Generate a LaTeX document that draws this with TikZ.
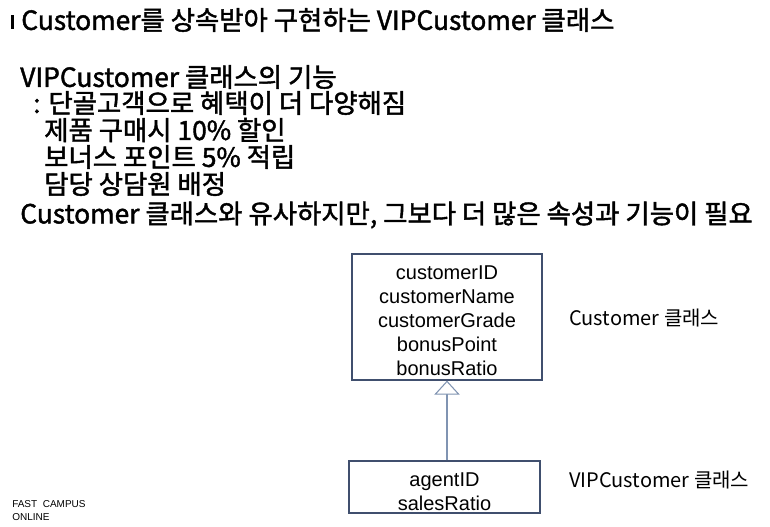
\documentclass[tikz,border=0pt]{standalone}
\usepackage{fontspec}
\setmainfont{Noto Sans CJK KR}
\newfontfamily\zeilenfont[FakeBold=1.6]{Noto Sans CJK KR}
\newfontfamily\arialfont{Liberation Sans}
\usetikzlibrary{arrows.meta}
\definecolor{rahmen}{rgb}{0.25,0.31,0.43}
\definecolor{pfeil}{rgb}{0.50,0.58,0.70}

\begin{document}
\begin{tikzpicture}
     [x=0.75pt, y=-0.75pt,
     zeile/.style = {anchor=west, inner sep=0pt, font=\zeilenfont\fontsize{19.8}{22}\selectfont},
     klasse/.style = {draw=rahmen, line width=0.9pt, align=center, inner sep=0pt,
       font=\arialfont\fontsize{15}{18}\selectfont},
     notiz/.style = {anchor=west, inner sep=0pt, font=\fontsize{15}{17}\selectfont},
     >=stealth
     ]

     \useasboundingbox (0,0) rectangle (770,527);

     % Aufzaehlung oben
     \fill (11,15) rectangle (14,29);
     \path (21,20) node[zeile] (titel) {Customer를 상속받아 구현하는 VIPCustomer 클래스}
           (20,77) node[zeile] (kopf) {VIPCustomer 클래스의 기능}
           (33,103) node[zeile] (z1) {: 단골고객으로 혜택이 더 다양해짐}
           (44,130) node[zeile] (z2) {제품 구매시 10\% 할인}
           (44,157) node[zeile] (z3) {보너스 포인트 5\% 적립}
           (44,184) node[zeile] (z4) {담당 상담원 배정}
           (20,215) node[zeile] (z5) {Customer 클래스와 유사하지만, 그보다 더 많은 속성과 기능이 필요};

     % Klassen
     \path (447,317) node[klasse, text width=142.5pt, minimum height=94.5pt] (cust)
              {\rule{0pt}{15.5pt}customerID\\customerName\\customerGrade\\bonusPoint\\bonusRatio}
           (444.5,487) node[klasse, text width=143.25pt, minimum height=39pt] (vip)
              {\rule{0pt}{17pt}agentID\\salesRatio};

     \draw[pfeil, line width=0.8pt, -{Triangle[open, width=19pt, length=10.5pt, fill=white]}]
          (vip.north -| cust.south) -- (cust.south);

     \path (569,318) node[notiz] (lcust) {Customer 클래스}
           (569,480) node[notiz] (lvip) {VIPCustomer 클래스};

     \path (12,504) node[anchor=west, inner sep=0pt, font=\arialfont\fontsize{7.5}{9}\selectfont] (fc) {FAST\ \ CAMPUS}
           (12,517) node[anchor=west, inner sep=0pt, font=\arialfont\fontsize{7.5}{9}\selectfont] (ol) {ONLINE};
  \end{tikzpicture}
\end{document}
